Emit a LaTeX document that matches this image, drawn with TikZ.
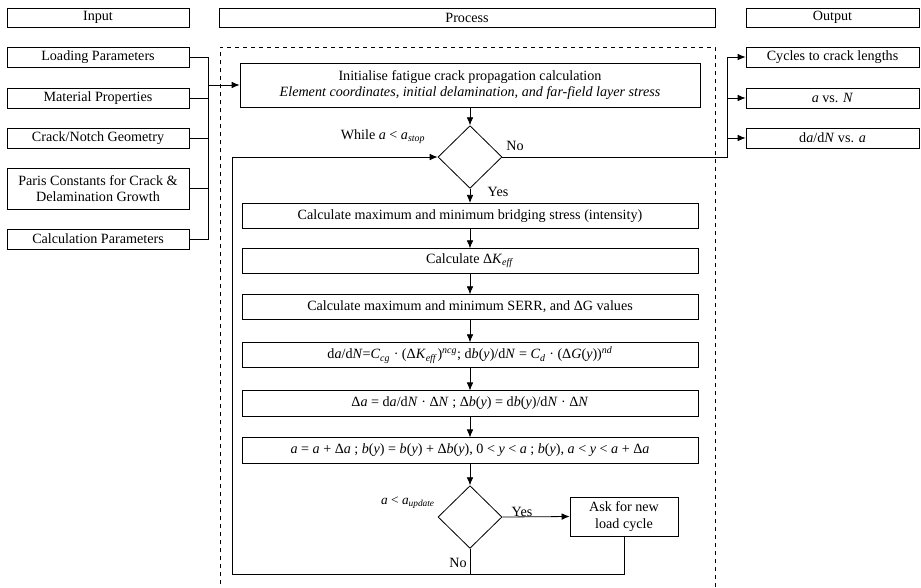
\documentclass[tikz,border=0pt]{standalone}
\usepackage{fontspec}
\setmainfont{Liberation Serif}
\usetikzlibrary{shapes.geometric,arrows.meta}
\newcommand{\iv}[1]{\textit{#1}}
\newcommand{\sbi}[1]{\textsubscript{\textit{#1}}}
\newcommand{\spi}[1]{\textsuperscript{\textit{#1}}}
\tikzset{
  box/.style={draw, line width=0.6pt, inner sep=1pt, align=center, font=\fontsize{10.6pt}{12.6pt}\selectfont},
  lbl/.style={inner sep=0pt, font=\fontsize{10.6pt}{12.6pt}\selectfont},
  slbl/.style={inner sep=0pt, font=\fontsize{10pt}{12pt}\selectfont},
  dia/.style={draw, diamond, line width=0.6pt, inner sep=0pt, minimum width=48pt, minimum height=47pt},
  con/.style={line width=0.6pt},
  arr/.style={line width=0.6pt, -{Latex[length=6pt,width=5pt]}}
}
\begin{document}
\begin{tikzpicture}[x=0.75pt,y=-0.75pt]
\useasboundingbox (0,0) rectangle (921,587);
% headers
\node[box, minimum width=136.5pt, minimum height=14.25pt] (hin) at (98,17.5) {Input};
\node[box, minimum width=372pt, minimum height=14.25pt] (hpr) at (467,17.5) {Process};
\node[box, minimum width=129.75pt, minimum height=14.25pt] (hout) at (832.5,17.5) {Output};
% dashed process frame
\draw[dashed, line width=0.5pt] (220,600) -- (220,47) -- (715,47) -- (715,600);
% inputs
\node[box, minimum width=136.5pt, minimum height=15pt] (load) at (98,57) {Loading Parameters};
\node[box, minimum width=136.5pt, minimum height=15pt] (mat) at (98,98) {Material Properties};
\node[box, minimum width=136.5pt, minimum height=15pt] (geo) at (98,138) {Crack/Notch Geometry};
\node[box, minimum width=136.5pt, minimum height=30.75pt] (paris) at (98,188.5) {Paris Constants for Crack \&\\Delamination Growth};
\node[box, minimum width=136.5pt, minimum height=15pt] (calc) at (98,239) {Calculation Parameters};
% outputs
\node[box, minimum width=129.75pt, minimum height=15pt] (cyc) at (832.5,57) {Cycles to crack lengths};
\node[box, minimum width=129.75pt, minimum height=15pt] (avn) at (832.5,98) {\iv{a} vs. \iv{N}};
\node[box, minimum width=129.75pt, minimum height=15pt] (dadn) at (832.5,138) {d\iv{a}/d\iv{N} vs. \iv{a}};
% process
\node[box, minimum width=345pt, minimum height=33pt] (init) at (470,85) {Initialise fatigue crack propagation calculation\\\iv{Element coordinates, initial delamination, and far-field layer stress}};
\node[dia] (d1) at (470,157) {};
\node[box, minimum width=342pt, minimum height=19pt] (b1) at (470,216) {Calculate maximum and minimum bridging stress (intensity)};
\node[box, minimum width=342pt, minimum height=18.5pt] (b2) at (470,261) {Calculate Δ\iv{K}\sbi{eff}};
\node[box, minimum width=342pt, minimum height=18.5pt] (b3) at (470,307) {Calculate maximum and minimum SERR, and ΔG values};
\node[box, minimum width=342pt, minimum height=18.5pt] (b4) at (470,355) {d\iv{a}/d\iv{N}=\iv{C}\sbi{cg} · (Δ\iv{K}\sbi{eff})\spi{ncg}; d\iv{b}(\iv{y})/d\iv{N} = \iv{C}\sbi{d} · (Δ\iv{G}(\iv{y}))\spi{nd}};
\node[box, minimum width=342pt, minimum height=19pt] (b5) at (470,403.5) {Δ\iv{a} = d\iv{a}/d\iv{N} · Δ\iv{N} ; Δ\iv{b}(\iv{y}) = d\iv{b}(\iv{y})/d\iv{N} · Δ\iv{N}};
\node[box, minimum width=342pt, minimum height=19pt] (b6) at (470,450.5) {\iv{a} = \iv{a} + Δ\iv{a} ; \iv{b}(\iv{y}) = \iv{b}(\iv{y}) + Δ\iv{b}(\iv{y}), 0 < \iv{y} < \iv{a} ; \iv{b}(\iv{y}), \iv{a} < \iv{y} < \iv{a} + Δ\iv{a}};
\node[dia] (d2) at (470,517) {};
\node[box, minimum width=81pt, minimum height=29.25pt] (ask) at (624,516.5) {Ask for new\\load cycle};
% labels
\node[lbl] (lwhile) at (383,137) {While \iv{a} < \iv{a}\sbi{stop}};
\node[lbl] (lno1) at (515,146) {No};
\node[lbl] (lyes1) at (498,192) {Yes};
\node[slbl] (lupd) at (408,503) {\iv{a} < \iv{a}\sbi{update}};
\node[lbl] (lyes2) at (522,512) {Yes};
\node[lbl] (lno2) at (458,563) {No};
% input bus
\coordinate (ibus) at (208,0);
\draw[con] (load.east) -- (load.east -| ibus) -- (calc.east -| ibus) -- (calc.east);
\draw[con] (mat.east) -- (mat.east -| ibus);
\draw[con] (geo.east) -- (geo.east -| ibus);
\draw[con] (paris.east) -- (paris.east -| ibus);
\draw[arr] (init.west -| ibus) -- (init.west);
% output bus
\coordinate (obus) at (727,0);
\draw[con] (d1.east) -- (d1.east -| obus) -- (cyc.west -| obus);
\draw[arr] (cyc.west -| obus) -- (cyc.west);
\draw[arr] (avn.west -| obus) -- (avn.west);
\draw[arr] (dadn.west -| obus) -- (dadn.west);
% main flow
\draw[arr] (init.south) -- (d1.north);
\draw[arr] (d1.south) -- (b1.north);
\draw[arr] (b1.south) -- (b2.north);
\draw[arr] (b2.south) -- (b3.north);
\draw[arr] (b3.south) -- (b4.north);
\draw[arr] (b4.south) -- (b5.north);
\draw[arr] (b5.south) -- (b6.north);
\draw[arr] (b6.south) -- (d2.north);
\draw[arr] (d2.east) -- (ask.west);
% loop
\coordinate (lb) at (232,574);
\draw[con] (d2.south) -- (d2.south |- lb);
\draw[arr] (ask.south) -- (ask.south |- lb) -- (lb) -- (lb |- d1.west) -- (d1.west);
\end{tikzpicture}
\end{document}
